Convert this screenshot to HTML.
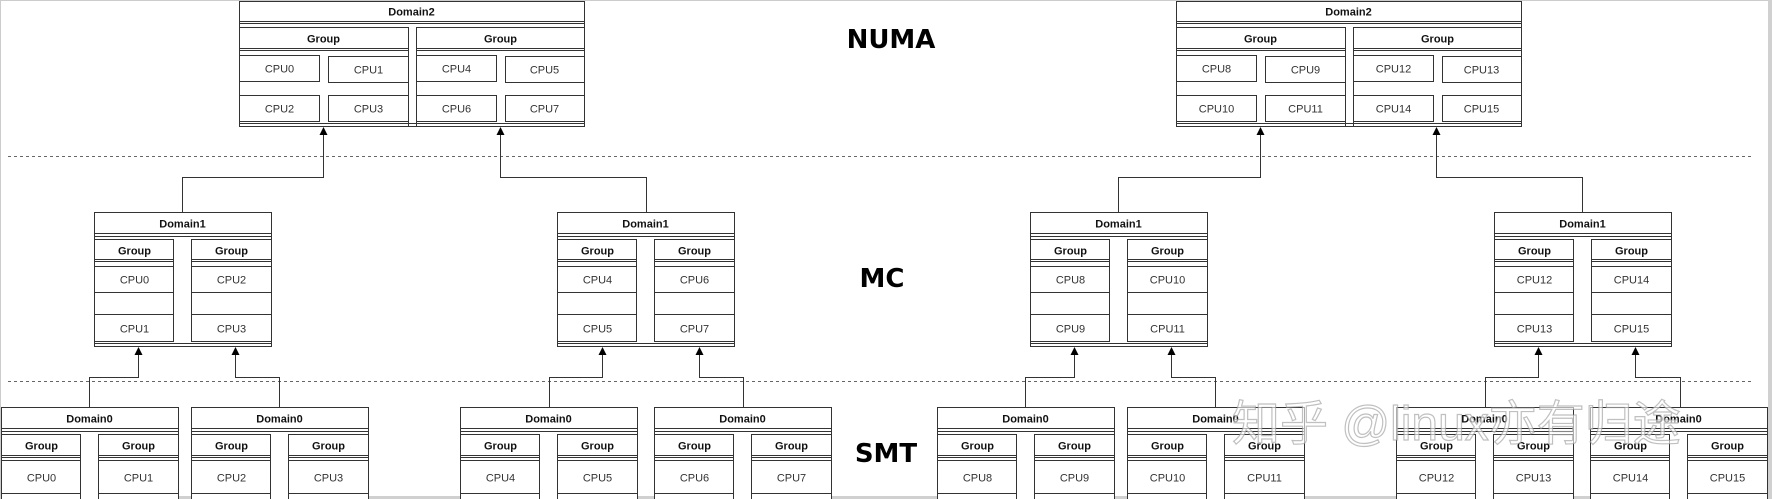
<!DOCTYPE html>
<html><head><meta charset="utf-8"><style>
html,body{margin:0;padding:0;background:#fff}
svg{display:block}
.t{font-family:"Liberation Sans",Arial,sans-serif;font-size:11px;text-anchor:middle;fill:#333}
.b{font-weight:bold;fill:#111}
.big{font-family:"DejaVu Sans",sans-serif;font-weight:bold;font-size:26px;text-anchor:middle;fill:#000}
rect,line,path{stroke:#333;stroke-width:1;fill:none}
polygon.a{fill:#000;stroke:none}
</style></head><body>
<svg width="1772" height="499" viewBox="0 0 1772 499" xmlns="http://www.w3.org/2000/svg">
<defs>
<g id="d2">
<rect x="0" y="0" width="345" height="125" style="fill:#fff"/>
<line x1="0" y1="20" x2="345" y2="20"/><line x1="0" y1="22" x2="345" y2="22"/>
<rect x="0" y="26" width="169" height="99"/><rect x="177" y="26" width="168" height="99"/>
<line x1="0" y1="47" x2="169" y2="47"/><line x1="0" y1="49" x2="169" y2="49"/>
<line x1="177" y1="47" x2="345" y2="47"/><line x1="177" y1="49" x2="345" y2="49"/>
<rect x="0" y="54" width="80" height="26"/><rect x="89" y="55" width="80" height="26"/>
<rect x="0" y="94" width="80" height="26"/><rect x="89" y="94" width="80" height="26"/>
<rect x="177" y="54" width="80" height="26"/><rect x="266" y="55" width="79" height="26"/>
<rect x="177" y="94" width="80" height="26"/><rect x="266" y="94" width="79" height="26"/>
<line x1="0" y1="122" x2="345" y2="122"/>
</g>
<g id="d1">
<rect x="0" y="0" width="177" height="134" style="fill:#fff"/>
<line x1="0" y1="21" x2="177" y2="21"/><line x1="0" y1="24" x2="177" y2="24"/>
<rect x="0" y="27" width="79" height="102"/><rect x="97" y="27" width="80" height="102"/>
<line x1="0" y1="47" x2="79" y2="47"/><line x1="0" y1="49" x2="79" y2="49"/><line x1="0" y1="54" x2="79" y2="54"/>
<line x1="97" y1="47" x2="177" y2="47"/><line x1="97" y1="49" x2="177" y2="49"/><line x1="97" y1="54" x2="177" y2="54"/>
<line x1="0" y1="80" x2="79" y2="80"/><line x1="0" y1="102" x2="79" y2="102"/>
<line x1="97" y1="80" x2="177" y2="80"/><line x1="97" y1="102" x2="177" y2="102"/>
<line x1="0" y1="131" x2="177" y2="131"/>
</g>
<g id="d0">
<rect x="0" y="0" width="177" height="100" style="fill:#fff"/>
<line x1="0" y1="21" x2="177" y2="21"/><line x1="0" y1="24" x2="177" y2="24"/>
<rect x="0" y="27" width="79" height="80"/><rect x="97" y="27" width="80" height="80"/>
<line x1="0" y1="48" x2="79" y2="48"/><line x1="0" y1="50" x2="79" y2="50"/><line x1="0" y1="53" x2="79" y2="53"/>
<line x1="97" y1="48" x2="177" y2="48"/><line x1="97" y1="50" x2="177" y2="50"/><line x1="97" y1="53" x2="177" y2="53"/>
<line x1="0" y1="86" x2="79" y2="86"/><line x1="97" y1="86" x2="177" y2="86"/>
</g>
</defs>

<line x1="0" y1="0.5" x2="1772" y2="0.5" style="stroke:#ccc"/>
<line x1="0.5" y1="0" x2="0.5" y2="499" style="stroke:#ccc"/>
<rect x="1768" y="0" width="4" height="499" style="fill:#d0d0d0;stroke:none"/>
<rect x="0" y="496" width="1772" height="3" style="fill:#d0d0d0;stroke:none"/>

<line x1="8" y1="156.5" x2="1752" y2="156.5" style="stroke:#666;stroke-dasharray:3,3"/>
<line x1="8" y1="381.5" x2="1752" y2="381.5" style="stroke:#666;stroke-dasharray:3,3"/>

<g>
<path d="M182.5,212 V177.5 H323.5 V133"/>
<path d="M646.5,212 V177.5 H500.5 V133"/>
<path d="M1118.5,212 V177.5 H1260.5 V133"/>
<path d="M1582.5,212 V177.5 H1436.5 V133"/>
<path d="M89.5,407 V377.5 H138.5 V353"/>
<path d="M279.5,407 V377.5 H235.5 V353"/>
<path d="M549.5,407 V377.5 H602.5 V353"/>
<path d="M743.5,407 V377.5 H699.5 V353"/>
<path d="M1025.5,407 V377.5 H1074.5 V353"/>
<path d="M1215.5,407 V377.5 H1171.5 V353"/>
<path d="M1485.5,407 V377.5 H1538.5 V353"/>
<path d="M1680.5,407 V377.5 H1635.5 V353"/>
</g>

<g transform="translate(239.5,1.5)"><use href="#d2"/>
<text class="t b" x="172" y="14">Domain2</text>
<text class="t b" x="84" y="41">Group</text><text class="t b" x="261" y="41">Group</text>
<text class="t" x="40" y="71">CPU0</text><text class="t" x="129" y="72">CPU1</text>
<text class="t" x="40" y="111">CPU2</text><text class="t" x="129" y="111">CPU3</text>
<text class="t" x="217" y="71">CPU4</text><text class="t" x="305" y="72">CPU5</text>
<text class="t" x="217" y="111">CPU6</text><text class="t" x="305" y="111">CPU7</text>
</g>
<g transform="translate(1176.5,1.5)"><use href="#d2"/>
<text class="t b" x="172" y="14">Domain2</text>
<text class="t b" x="84" y="41">Group</text><text class="t b" x="261" y="41">Group</text>
<text class="t" x="40" y="71">CPU8</text><text class="t" x="129" y="72">CPU9</text>
<text class="t" x="40" y="111">CPU10</text><text class="t" x="129" y="111">CPU11</text>
<text class="t" x="217" y="71">CPU12</text><text class="t" x="305" y="72">CPU13</text>
<text class="t" x="217" y="111">CPU14</text><text class="t" x="305" y="111">CPU15</text>
</g>

<g transform="translate(94.5,212.5)"><use href="#d1"/>
<text class="t b" x="88" y="15">Domain1</text>
<text class="t b" x="40" y="42">Group</text><text class="t b" x="137" y="42">Group</text>
<text class="t" x="40" y="71">CPU0</text><text class="t" x="137" y="71">CPU2</text>
<text class="t" x="40" y="120">CPU1</text><text class="t" x="137" y="120">CPU3</text>
</g>
<g transform="translate(557.5,212.5)"><use href="#d1"/>
<text class="t b" x="88" y="15">Domain1</text>
<text class="t b" x="40" y="42">Group</text><text class="t b" x="137" y="42">Group</text>
<text class="t" x="40" y="71">CPU4</text><text class="t" x="137" y="71">CPU6</text>
<text class="t" x="40" y="120">CPU5</text><text class="t" x="137" y="120">CPU7</text>
</g>
<g transform="translate(1030.5,212.5)"><use href="#d1"/>
<text class="t b" x="88" y="15">Domain1</text>
<text class="t b" x="40" y="42">Group</text><text class="t b" x="137" y="42">Group</text>
<text class="t" x="40" y="71">CPU8</text><text class="t" x="137" y="71">CPU10</text>
<text class="t" x="40" y="120">CPU9</text><text class="t" x="137" y="120">CPU11</text>
</g>
<g transform="translate(1494.5,212.5)"><use href="#d1"/>
<text class="t b" x="88" y="15">Domain1</text>
<text class="t b" x="40" y="42">Group</text><text class="t b" x="137" y="42">Group</text>
<text class="t" x="40" y="71">CPU12</text><text class="t" x="137" y="71">CPU14</text>
<text class="t" x="40" y="120">CPU13</text><text class="t" x="137" y="120">CPU15</text>
</g>

<g transform="translate(1.5,407.5)"><use href="#d0"/>
<text class="t b" x="88" y="15">Domain0</text>
<text class="t b" x="40" y="42">Group</text><text class="t b" x="137" y="42">Group</text>
<text class="t" x="40" y="74">CPU0</text><text class="t" x="137" y="74">CPU1</text></g>
<g transform="translate(191.5,407.5)"><use href="#d0"/>
<text class="t b" x="88" y="15">Domain0</text>
<text class="t b" x="40" y="42">Group</text><text class="t b" x="137" y="42">Group</text>
<text class="t" x="40" y="74">CPU2</text><text class="t" x="137" y="74">CPU3</text></g>
<g transform="translate(460.5,407.5)"><use href="#d0"/>
<text class="t b" x="88" y="15">Domain0</text>
<text class="t b" x="40" y="42">Group</text><text class="t b" x="137" y="42">Group</text>
<text class="t" x="40" y="74">CPU4</text><text class="t" x="137" y="74">CPU5</text></g>
<g transform="translate(654.5,407.5)"><use href="#d0"/>
<text class="t b" x="88" y="15">Domain0</text>
<text class="t b" x="40" y="42">Group</text><text class="t b" x="137" y="42">Group</text>
<text class="t" x="40" y="74">CPU6</text><text class="t" x="137" y="74">CPU7</text></g>
<g transform="translate(937.5,407.5)"><use href="#d0"/>
<text class="t b" x="88" y="15">Domain0</text>
<text class="t b" x="40" y="42">Group</text><text class="t b" x="137" y="42">Group</text>
<text class="t" x="40" y="74">CPU8</text><text class="t" x="137" y="74">CPU9</text></g>
<g transform="translate(1127.5,407.5)"><use href="#d0"/>
<text class="t b" x="88" y="15">Domain0</text>
<text class="t b" x="40" y="42">Group</text><text class="t b" x="137" y="42">Group</text>
<text class="t" x="40" y="74">CPU10</text><text class="t" x="137" y="74">CPU11</text></g>
<g transform="translate(1396.5,407.5)"><use href="#d0"/>
<text class="t b" x="88" y="15">Domain0</text>
<text class="t b" x="40" y="42">Group</text><text class="t b" x="137" y="42">Group</text>
<text class="t" x="40" y="74">CPU12</text><text class="t" x="137" y="74">CPU13</text></g>
<g transform="translate(1590.5,407.5)"><use href="#d0"/>
<text class="t b" x="88" y="15">Domain0</text>
<text class="t b" x="40" y="42">Group</text><text class="t b" x="137" y="42">Group</text>
<text class="t" x="40" y="74">CPU14</text><text class="t" x="137" y="74">CPU15</text></g>

<!-- arrowheads -->
<polygon class="a" points="323.5,127 319.5,135 327.5,135"/>
<polygon class="a" points="500.5,127 496.5,135 504.5,135"/>
<polygon class="a" points="1260.5,127 1256.5,135 1264.5,135"/>
<polygon class="a" points="1436.5,127 1432.5,135 1440.5,135"/>
<polygon class="a" points="138.5,347 134.5,355 142.5,355"/>
<polygon class="a" points="235.5,347 231.5,355 239.5,355"/>
<polygon class="a" points="602.5,347 598.5,355 606.5,355"/>
<polygon class="a" points="699.5,347 695.5,355 703.5,355"/>
<polygon class="a" points="1074.5,347 1070.5,355 1078.5,355"/>
<polygon class="a" points="1171.5,347 1167.5,355 1175.5,355"/>
<polygon class="a" points="1538.5,347 1534.5,355 1542.5,355"/>
<polygon class="a" points="1635.5,347 1631.5,355 1639.5,355"/>

<text class="big" x="891" y="48">NUMA</text>
<text class="big" x="882" y="287">MC</text>
<text class="big" x="886" y="462">SMT</text>

<text x="1232" y="440" style="font-family:'Liberation Sans','Noto Sans CJK SC',sans-serif;font-size:48px;fill:rgba(255,255,255,0.6);stroke:rgba(150,150,150,0.6);stroke-width:1.2">知乎 @linux亦有归途</text>
</svg>
</body></html>
